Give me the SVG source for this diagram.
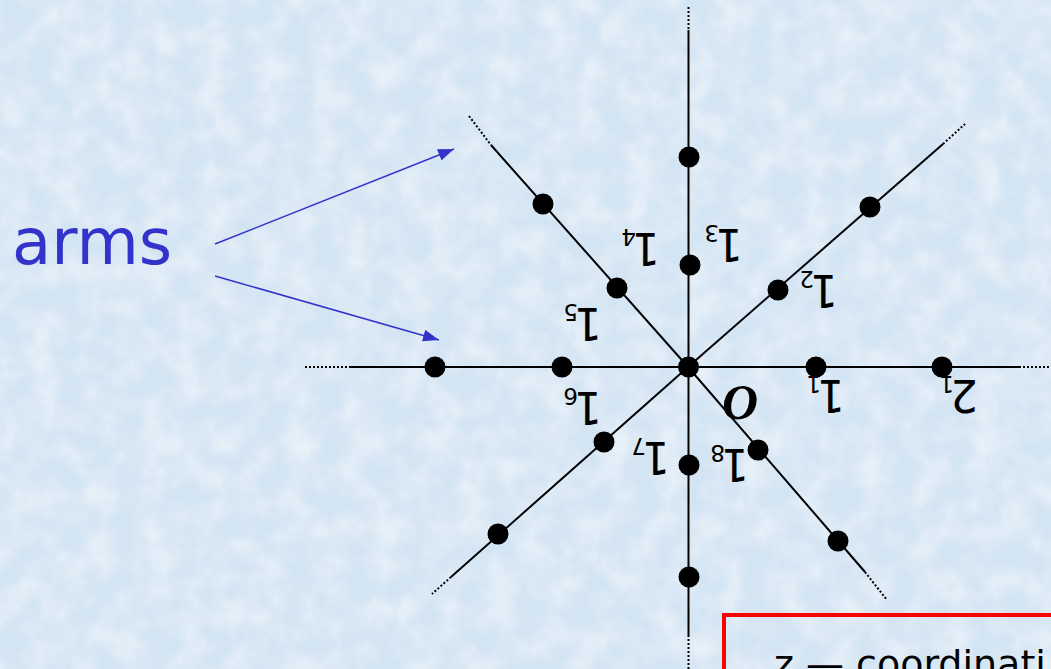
<svg xmlns="http://www.w3.org/2000/svg" width="1051" height="669" viewBox="0 0 1051 669">
<style>
.arm{stroke:#000;stroke-width:2;fill:none}
.dot{stroke:#000;stroke-width:2;stroke-dasharray:2 2;fill:none}
.pt{fill:#000}
.lbl{font-family:"DejaVu Sans",sans-serif;font-size:44px;fill:#000}
.sub{font-size:23px}
.ptr{stroke:#3333cc;stroke-width:1.5;fill:none}
.note{font-family:"DejaVu Sans",sans-serif;font-size:38px;fill:#000}
</style>
<defs>
<filter id="tex" x="0" y="0" width="100%" height="100%">
<feTurbulence type="fractalNoise" baseFrequency="0.035" numOctaves="3" seed="4"/>
<feColorMatrix type="matrix" values="0 0 0 0 1  0 0 0 0 1  0 0 0 0 1  0 0 0 0.9 -0.3"/>
</filter>
<marker id="ah" markerUnits="userSpaceOnUse" markerWidth="18" markerHeight="12" refX="16" refY="6" orient="auto">
<path d="M0,0 L16,6 L0,12 Z" fill="#3333cc"/>
</marker>
</defs>
<g id="background">
<rect width="1051" height="669" fill="#d3e4f3"/>
<rect width="1051" height="669" filter="url(#tex)"/>
</g>
<g id="connectors">
<line class="arm" x1="350" y1="367" x2="1019" y2="367"/>
<line class="dot" x1="305" y1="367" x2="350" y2="367"/>
<line class="dot" x1="1019" y1="367" x2="1051" y2="367"/>
<line class="arm" x1="688.5" y1="30" x2="688.5" y2="635"/>
<line class="dot" x1="688.5" y1="7" x2="688.5" y2="30"/>
<line class="dot" x1="688.5" y1="635" x2="688.5" y2="669"/>
<line class="arm" x1="491" y1="145" x2="688" y2="367"/>
<line class="dot" x1="469" y1="116" x2="491" y2="145"/>
<line class="arm" x1="688" y1="367" x2="865" y2="572"/>
<line class="dot" x1="865" y1="572" x2="887" y2="600"/>
<line class="arm" x1="688" y1="367" x2="943" y2="144"/>
<line class="dot" x1="943" y1="144" x2="965" y2="124"/>
<line class="arm" x1="688" y1="367" x2="451" y2="577"/>
<line class="dot" x1="451" y1="577" x2="432" y2="594"/>
<line class="ptr" x1="215" y1="244" x2="454" y2="149" marker-end="url(#ah)"/>
<line class="ptr" x1="215" y1="276" x2="439" y2="340" marker-end="url(#ah)"/>
</g>
<g id="points">
<circle class="pt" cx="435" cy="367" r="10.5"/>
<circle class="pt" cx="562" cy="367" r="10.5"/>
<circle class="pt" cx="688.5" cy="367" r="10.5"/>
<circle class="pt" cx="816" cy="367" r="10.5"/>
<circle class="pt" cx="942" cy="367" r="10.5"/>
<circle class="pt" cx="689" cy="157" r="10.5"/>
<circle class="pt" cx="690" cy="265" r="10.5"/>
<circle class="pt" cx="689" cy="465" r="10.5"/>
<circle class="pt" cx="689" cy="577" r="10.5"/>
<circle class="pt" cx="778" cy="290" r="10.5"/>
<circle class="pt" cx="870" cy="207" r="10.5"/>
<circle class="pt" cx="617" cy="288" r="10.5"/>
<circle class="pt" cx="543" cy="204" r="10.5"/>
<circle class="pt" cx="604" cy="442" r="10.5"/>
<circle class="pt" cx="498" cy="534" r="10.5"/>
<circle class="pt" cx="758" cy="450" r="10.5"/>
<circle class="pt" cx="838" cy="541" r="10.5"/>
</g>
<g id="labels">
<text class="lbl" transform="translate(845,380) rotate(180)">1<tspan class="sub" dy="4" dx="-4">1</tspan></text>
<text class="lbl" transform="translate(978,380) rotate(180)">2<tspan class="sub" dy="4" dx="-4">1</tspan></text>
<text class="lbl" transform="translate(838,275) rotate(180)">1<tspan class="sub" dy="4" dx="-4">2</tspan></text>
<text class="lbl" transform="translate(743,229) rotate(180)">1<tspan class="sub" dy="4" dx="-4">3</tspan></text>
<text class="lbl" transform="translate(660,233) rotate(180)">1<tspan class="sub" dy="4" dx="-4">4</tspan></text>
<text class="lbl" transform="translate(602,308) rotate(180)">1<tspan class="sub" dy="4" dx="-4">5</tspan></text>
<text class="lbl" transform="translate(602,392) rotate(180)">1<tspan class="sub" dy="4" dx="-4">6</tspan></text>
<text class="lbl" transform="translate(670,442) rotate(180)">1<tspan class="sub" dy="4" dx="-4">7</tspan></text>
<text class="lbl" transform="translate(749,449) rotate(180)">1<tspan class="sub" dy="4" dx="-4">8</tspan></text>
</g>
<g id="origin">
<text x="722" y="419" font-family="Liberation Serif,serif" font-size="50" font-weight="bold" font-style="italic" fill="#000">O</text>
</g>
<g id="arms-label">
<text x="12" y="264" font-family="DejaVu Sans,sans-serif" font-size="64" fill="#3333cc">arms</text>
</g>
<g id="note">
<rect x="724" y="615" width="400" height="100" fill="none" stroke="#ff0000" stroke-width="4"/>
<text class="note" x="774" y="677">z —</text>
<text class="note" x="856" y="677">coordinati</text>
</g>
</svg>
